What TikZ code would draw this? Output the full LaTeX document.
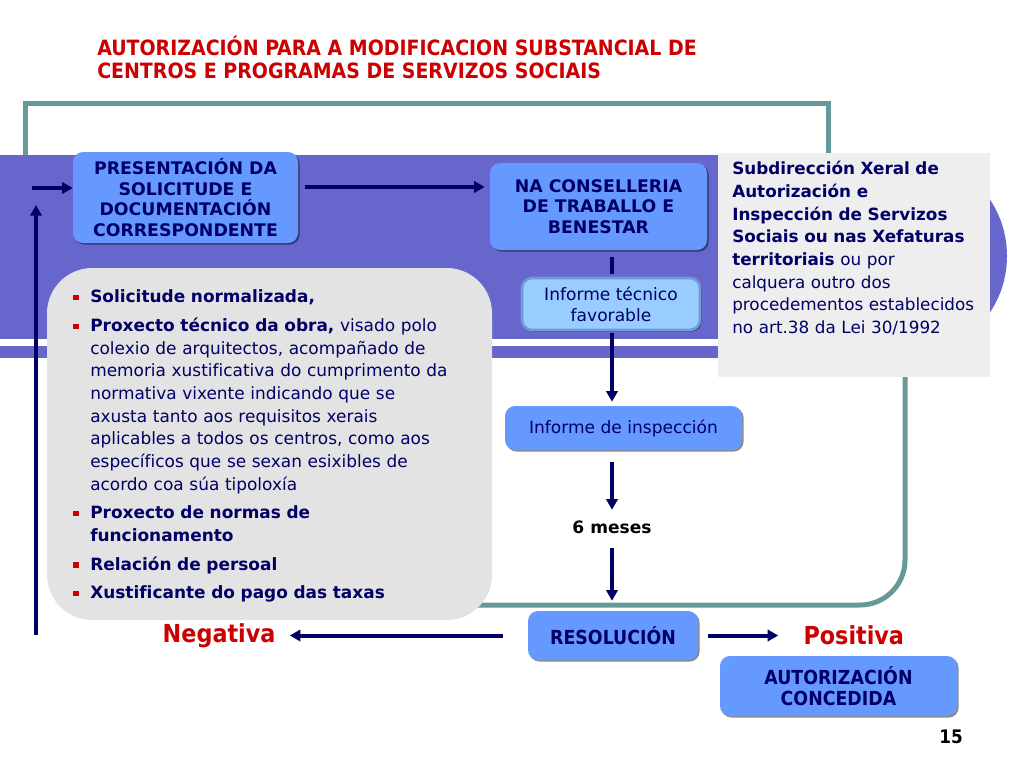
\documentclass[tikz,border=0pt]{standalone}
\usepackage{fontspec}
\setmainfont{DejaVu Sans}[Ligatures=NoCommon]
\newfontfamily\estreita{DejaVu Sans Condensed}[Ligatures=NoCommon]
\usepackage{xcolor}
\usetikzlibrary{arrows.meta, positioning, shadows, calc}

\definecolor{moradoFondo}{HTML}{6666CC}
\definecolor{azulCaixa}{HTML}{6699FF}
\definecolor{azulClaro}{HTML}{99CCFF}
\definecolor{azulBorde}{HTML}{6F9AD6}
\definecolor{marino}{HTML}{000066}
\definecolor{verdeMarco}{HTML}{669999}
\definecolor{grisCaixa}{HTML}{E3E3E3}
\definecolor{grisClaro}{HTML}{EEEEEE}
\definecolor{vermello}{HTML}{CC0000}

\newcommand{\punto}{\par\noindent\hangindent=12.75pt\hangafter=1%
  \makebox[12.75pt][l]{\textcolor{vermello}{\rule[2pt]{4pt}{4pt}}}}
\newcommand{\ql}{\hfil\break}

\begin{document}
\begin{tikzpicture}[x=0.75pt, y=-0.75pt, >=Latex,
    caixa/.style={rounded corners=7.5pt, fill=azulCaixa, text=marino, align=center, inner sep=0pt,
      font=\bfseries\fontsize{13}{15.5}\selectfont,
      drop shadow={shadow xshift=1.2pt, shadow yshift=-1.2pt, opacity=0.45, fill=black}},
    caixaEstreita/.style={caixa, font=\estreita\bfseries\fontsize{14.5}{16}\selectfont},
    informe/.style={caixa, font=\fontsize{12.8}{15.75}\selectfont},
    frecha/.style={-{Triangle[length=8pt, width=8.5pt]}, line width=3pt, draw=marino},
    trazo/.style={line width=3pt, draw=marino},
    marco/.style={draw=verdeMarco, line width=3.75pt},
    vermelloGrande/.style={text=vermello, font=\estreita\bfseries\fontsize{18.6}{20}\selectfont, inner sep=0pt}]

		\useasboundingbox (0,0) rectangle (1024,768);
		\fill[white] (0,0) rectangle (1024,768);

		% Titulo
		\node[anchor=north west, align=left, inner sep=0pt, text=vermello,
			font=\estreita\bfseries\fontsize{15.8}{17.25}\selectfont] (titulo) at (97,36)
			{AUTORIZACIÓN PARA A MODIFICACION SUBSTANCIAL DE\\CENTROS E PROGRAMAS DE SERVIZOS SOCIAIS};

		% Marco
		\draw[marco] (25,170) -- (25,103) -- (828,103) -- (828,170);
		\draw[marco] (905,370) -- (905,560) arc[start angle=0, end angle=90, radius=45] -- (470,605);

		% Faixa
		\fill[moradoFondo] (905,256) circle[radius=102];
		\fill[moradoFondo] (0,155) rectangle (905,339);
		\fill[moradoFondo] (0,346) rectangle (718,358);

		% Organismo
		\node[fill=grisClaro, minimum width=204pt, minimum height=168pt, inner sep=0pt] (organismo) at (854,265) {};
		\node[anchor=north west, align=left, text width=200pt, inner sep=0pt, text=marino,
			font=\fontsize{12.6}{17}\selectfont] (organismoTexto) at (732,161)
			{\textbf{Subdirección Xeral de\ql Autorización e\ql Inspección de Servizos\ql Sociais ou nas Xefaturas\ql territoriais} ou por\ql calquera outro dos\ql procedementos establecidos\ql no art.38 da Lei 30/1992};

		% Caixas
		\node[caixa, minimum width=168.75pt, minimum height=68.25pt] (presentacion) at (185.5,197.5)
			{PRESENTACIÓN DA\\SOLICITUDE E\\DOCUMENTACIÓN\\CORRESPONDENTE};
		\node[caixa, minimum width=162.75pt, minimum height=65.25pt] (conselleria) at (598.5,206.5)
			{NA CONSELLERIA\\DE TRABALLO E\\BENESTAR};
		\node[informe, fill=azulClaro, draw=azulBorde, line width=2pt, minimum width=133.5pt, minimum height=39pt] (tecnico) at (611,304)
			{Informe técnico\\favorable};
		\node[informe, minimum width=177.75pt, minimum height=33pt] (inspeccion) at (623.5,428)
			{Informe de inspección};
		\node[font=\bfseries\fontsize{12.8}{14}\selectfont, minimum height=15pt, inner sep=0pt] (meses) at (612,527) {6 meses};
		\node[caixaEstreita, minimum width=127.5pt, minimum height=36.75pt] (resolucion) at (613,635.5) {RESOLUCIÓN};
		\node[caixaEstreita, minimum width=177.75pt, minimum height=45pt] (concedida) at (838.5,686)
			{AUTORIZACIÓN\\CONCEDIDA};
		\node[vermelloGrande, left=189pt of resolucion] (negativa) {Negativa};
		\node[vermelloGrande, right=78.75pt of resolucion] (positiva) {Positiva};

		% Requisitos
		\node[fill=grisCaixa, rounded corners=34pt, minimum width=333.75pt, minimum height=264pt, inner sep=0pt] (requisitos) at (269.5,444) {};
		\node[anchor=north west, align=left, text width=320pt, inner sep=0pt, text=marino,
			font=\fontsize{12.7}{17}\selectfont] (listaRequisitos) at (73,274)
			{\setlength{\parskip}{4.5pt}%
			\punto\textbf{Solicitude normalizada,}
			\punto\textbf{Proxecto técnico da obra,} visado polo\ql colexio de arquitectos, acompañado de\ql memoria xustificativa do cumprimento da\ql normativa vixente indicando que se\ql axusta tanto aos requisitos xerais\ql aplicables a todos os centros, como aos\ql específicos que se sexan esixibles de\ql acordo coa súa tipoloxía
			\punto\textbf{Proxecto de normas de\ql funcionamento}
			\punto\textbf{Relación de persoal}
			\punto\textbf{Xustificante do pago das taxas}};

		% Numero
		\node[font=\estreita\bfseries\fontsize{14}{16}\selectfont] (numero) at (951,737) {15};

		% Frechas
		\coordinate (entrada) at (32,188);
		\coordinate (retorno) at (36,635);
		\coordinate (retornoTope) at (36,205);
		\draw[frecha] (entrada) -- (entrada -| presentacion.west);
		\draw[frecha] (retorno) -- (retornoTope);
		\draw[frecha, shorten <=5.25pt, shorten >=3.75pt] ([yshift=7.9pt]presentacion.east) -- ([yshift=7.9pt]presentacion.east -| conselleria.west);
		\draw[trazo, shorten <=5.25pt, shorten >=2.25pt] (conselleria.south -| meses) -- (tecnico.north -| meses);
		\draw[frecha, shorten <=1.5pt, shorten >=3pt] (tecnico.south -| meses) -- (inspeccion.north -| meses);
		\draw[frecha, shorten <=9pt, shorten >=5.25pt] (inspeccion.south -| meses) -- (meses.north);
		\draw[frecha, shorten <=8.25pt, shorten >=7.5pt] (meses.south) -- (resolucion.north -| meses);
		\draw[frecha, shorten <=18.75pt, shorten >=10.5pt] (resolucion.west) -- (negativa.east);
		\draw[frecha, shorten <=7.5pt, shorten >=18.75pt] (resolucion.east) -- (positiva.west);
	\end{tikzpicture}
\end{document}
